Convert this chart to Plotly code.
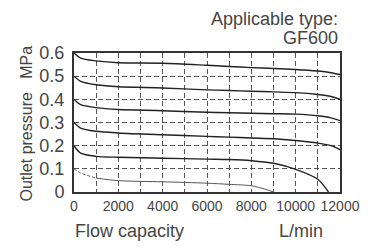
import plotly.graph_objects as go

# Flow capacity (L/min) sample points and outlet pressure (MPa) curves
flow_a = [0, 300, 1000, 2000, 4000, 6000, 7000, 8000, 9000, 10000, 11000, 11600, 12000]
p_06 = [0.6, 0.578, 0.566, 0.558, 0.556, 0.547, 0.542, 0.537, 0.533, 0.529, 0.522, 0.515, 0.507]
p_05 = [0.5, 0.478, 0.463, 0.454, 0.449, 0.441, 0.438, 0.435, 0.432, 0.429, 0.421, 0.412, 0.400]
p_04 = [0.4, 0.377, 0.364, 0.356, 0.351, 0.344, 0.342, 0.340, 0.338, 0.336, 0.329, 0.320, 0.308]
p_03 = [0.3, 0.276, 0.262, 0.255, 0.247, 0.240, 0.237, 0.233, 0.230, 0.222, 0.211, 0.200, 0.183]

flow_b = [0, 300, 1000, 2000, 4000, 6000, 7000, 8000, 9000, 10000, 11000, 11480]
p_02 = [0.2, 0.168, 0.154, 0.150, 0.146, 0.142, 0.140, 0.135, 0.124, 0.098, 0.055, 0.0]

flow_c = [0, 300, 1000, 2000, 4000, 6000, 7000, 8000, 8600, 9000]
p_01 = [0.1, 0.082, 0.060, 0.049, 0.044, 0.038, 0.033, 0.027, 0.013, 0.0]

x_ticks = [0, 2000, 4000, 6000, 8000, 10000, 12000]
x_tick_labels = ["0", "2000", "4000", "6000", "8000", "10000", "12000"]
y_ticks = [0, 0.1, 0.2, 0.3, 0.4, 0.5, 0.6]
y_tick_labels = ["0", "0.1", "0.2", "0.3", "0.4", "0.5", "0.6"]

TXT = "#444444"
FONT = "Liberation Sans, Arial, sans-serif"
LINE = "#222222"

fig = go.Figure()
for ys in [p_06, p_05, p_04, p_03]:
    fig.add_trace(go.Scatter(x=flow_a, y=ys, mode="lines",
                             line=dict(color=LINE, width=1.4, shape="spline", smoothing=0.8),
                             showlegend=False, hoverinfo="skip"))
fig.add_trace(go.Scatter(x=flow_b, y=p_02, mode="lines",
                         line=dict(color=LINE, width=1.4, shape="spline", smoothing=0.8),
                         showlegend=False, hoverinfo="skip"))
fig.add_trace(go.Scatter(x=flow_c[:3], y=p_01[:3], mode="lines",
                         line=dict(color="#555555", width=1, dash="3px,2px", shape="spline", smoothing=0.8),
                         showlegend=False, hoverinfo="skip"))
fig.add_trace(go.Scatter(x=flow_c[2:], y=p_01[2:], mode="lines",
                         line=dict(color="#555555", width=1, shape="spline", smoothing=0.8),
                         showlegend=False, hoverinfo="skip"))

# page body has an 8px default margin, so the figure is 372x240 and
# viewport coordinates = figure coordinates + 8
fig.update_layout(
    width=372, height=240,
    margin=dict(l=66, r=40, t=45, b=56),
    paper_bgcolor="white", plot_bgcolor="white",
    font=dict(family=FONT, color=TXT, size=17),
)
fig.update_xaxes(
    range=[0, 12000], tickvals=x_ticks, ticktext=x_tick_labels,
    tickfont=dict(family=FONT, size=14, color=TXT),
    showgrid=True, gridcolor="#555555", gridwidth=1, griddash="5px,3px",
    minor=dict(dtick=1000, showgrid=True, gridcolor="#555555", gridwidth=1, griddash="5px,3px"),
    showline=True, linecolor="#333333", linewidth=2, mirror=True,
    zeroline=False, ticks="", tickangle=0, automargin=False,
)
fig.update_yaxes(
    range=[0, 0.6], tickvals=y_ticks, ticktext=y_tick_labels,
    tickfont=dict(family=FONT, size=18, color=TXT),
    showgrid=True, gridcolor="#555555", gridwidth=1, griddash="5px,3px",
    showline=True, linecolor="#333333", linewidth=2, mirror=True,
    zeroline=False, ticks="", ticklabelstandoff=4, automargin=False,
)

def px(xp):
    return (xp - 74) / 266.0

def py(yp):
    return (192 - yp) / 139.0

ann = [
    dict(text="Applicable type:", x=px(340), y=py(19), xanchor="right", yanchor="middle", font=dict(size=18)),
    dict(text="GF600", x=px(340), y=py(38), xanchor="right", yanchor="middle", font=dict(size=18)),
    dict(text="Flow capacity", x=px(73), y=py(231), xanchor="left", yanchor="middle", font=dict(size=18)),
    dict(text="L/min", x=px(277), y=py(231), xanchor="left", yanchor="middle", font=dict(size=18)),
    dict(text="Outlet pressure\u00a0\u00a0\u00a0MPa", x=px(26), y=py(123.5), xanchor="center", yanchor="middle",
         textangle=-90, font=dict(size=16)),
]
for a in ann:
    fig.add_annotation(xref="paper", yref="paper", showarrow=False, **a)

fig.write_html("out.html")
